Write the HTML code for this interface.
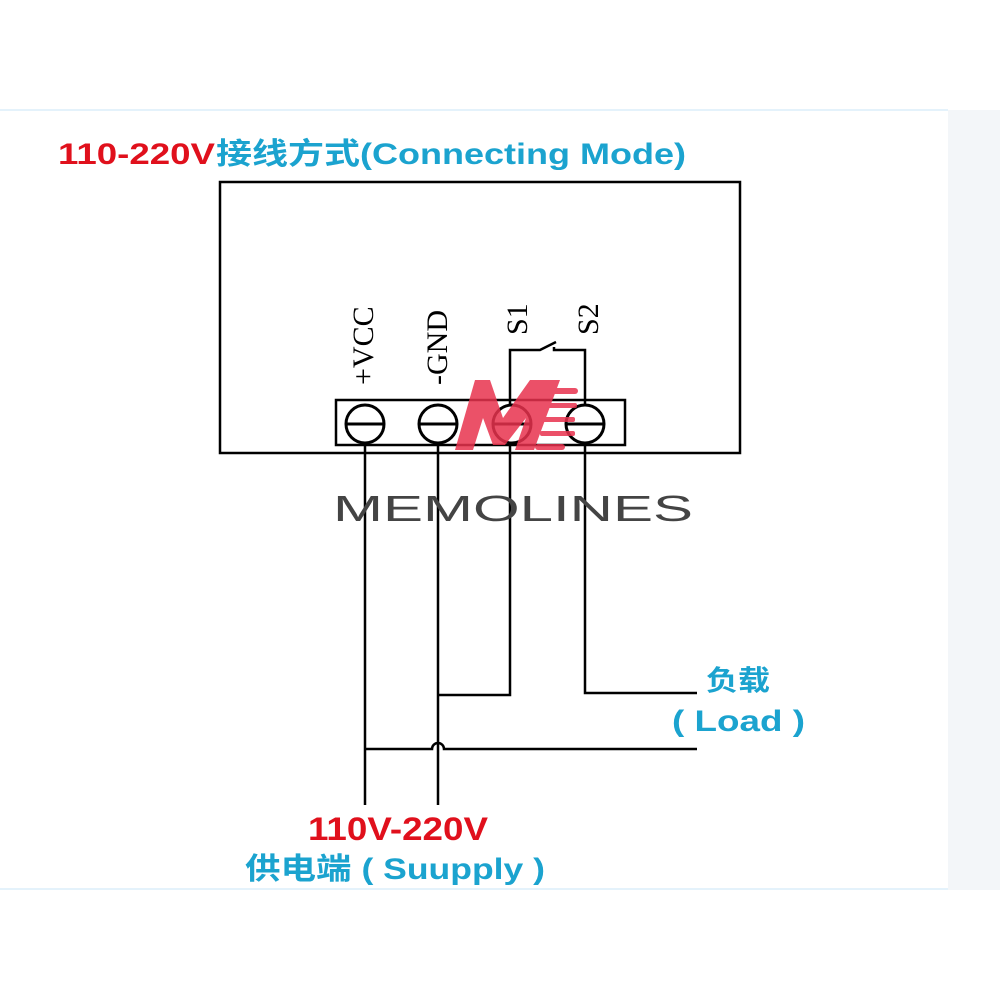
<!DOCTYPE html>
<html><head><meta charset="utf-8"><style>
html,body{margin:0;padding:0;background:#fff;}
svg{display:block;}
</style></head><body>
<svg width="1000" height="1000" viewBox="0 0 1000 1000" xmlns="http://www.w3.org/2000/svg">
<rect x="0" y="0" width="1000" height="1000" fill="#fff"/>
<rect x="948" y="110" width="52" height="780" fill="#f3f6f9"/>
<line x1="0" y1="110" x2="948" y2="110" stroke="#e4f2fb" stroke-width="2"/>
<line x1="0" y1="889" x2="948" y2="889" stroke="#e4f2fb" stroke-width="2"/>

<text x="58" y="164" font-family="Liberation Sans, Noto Sans CJK SC, sans-serif" font-size="30" font-weight="bold" fill="#e0101c" textLength="157" lengthAdjust="spacingAndGlyphs">110-220V</text>
<text x="216" y="164" font-family="Liberation Sans, Noto Sans CJK SC, sans-serif" font-size="30" font-weight="bold" fill="#1ba3cf" textLength="470" lengthAdjust="spacingAndGlyphs">接线方式(Connecting  Mode)</text>

<g fill="none" stroke="#000" stroke-width="2.5">
<rect x="220" y="182" width="520" height="271"/>
<rect x="336" y="400" width="289" height="45"/>
<g stroke-width="3">
<circle cx="365" cy="424" r="19"/><line x1="346" y1="424" x2="384" y2="424"/>
<circle cx="438" cy="424" r="19"/><line x1="419" y1="424" x2="457" y2="424"/>
<circle cx="512" cy="424" r="19"/><line x1="493" y1="424" x2="531" y2="424"/>
<circle cx="585" cy="424" r="19"/><line x1="566" y1="424" x2="604" y2="424"/>
</g>
<polyline points="510,405 510,350 540,350 556,342"/>
<polyline points="554,347 554,350 585,350 585,405"/>
<line x1="365" y1="443" x2="365" y2="805"/>
<line x1="438" y1="443" x2="438" y2="805"/>
<polyline points="510,443 510,695 438,695"/>
<polyline points="585,443 585,693 697,693"/>
<path d="M365,749 H432 A6,6 0 0 1 444,749 H697"/>
</g>

<g font-family="Liberation Serif, serif" font-size="30" fill="#000">
<text transform="translate(373,385) rotate(-90)">+VCC</text>
<text transform="translate(447,385) rotate(-90)">-GND</text>
<text transform="translate(527,335) rotate(-90)">S1</text>
<text transform="translate(598,335) rotate(-90)">S2</text>
</g>

<g fill="#e8324e" opacity="0.85">
<polygon points="455,450 475,380 490,380 503,418 530,380 560,380 548,412 534,450 515,450 526,418 505,445 493,445 483,418 473,450"/>
<rect x="540" y="388" width="38" height="6" rx="3"/>
<rect x="545" y="403" width="32" height="5" rx="2"/>
<rect x="540" y="417" width="35" height="5" rx="2"/>
<rect x="540" y="431" width="35" height="5" rx="2"/>
<rect x="535" y="444" width="30" height="6" rx="3"/>
</g>

<text x="333" y="521" font-family="Liberation Sans, sans-serif" font-size="36" fill="#444" textLength="360" lengthAdjust="spacingAndGlyphs">MEMOLINES</text>

<text x="706" y="690" font-family="Liberation Sans, Noto Sans CJK SC, sans-serif" font-size="28" font-weight="bold" fill="#1ba3cf" textLength="64" lengthAdjust="spacingAndGlyphs">负载</text>
<text x="672" y="731" font-family="Liberation Sans, Noto Sans CJK SC, sans-serif" font-size="30" font-weight="bold" fill="#1ba3cf" textLength="133" lengthAdjust="spacingAndGlyphs">( Load )</text>

<text x="308" y="840" font-family="Liberation Sans, sans-serif" font-size="32" font-weight="bold" fill="#e0101c" textLength="180" lengthAdjust="spacingAndGlyphs">110V-220V</text>
<text x="245" y="879" font-family="Liberation Sans, Noto Sans CJK SC, sans-serif" font-size="30" font-weight="bold" fill="#1ba3cf" textLength="300" lengthAdjust="spacingAndGlyphs">供电端 ( Suupply )</text>
</svg>
</body></html>
